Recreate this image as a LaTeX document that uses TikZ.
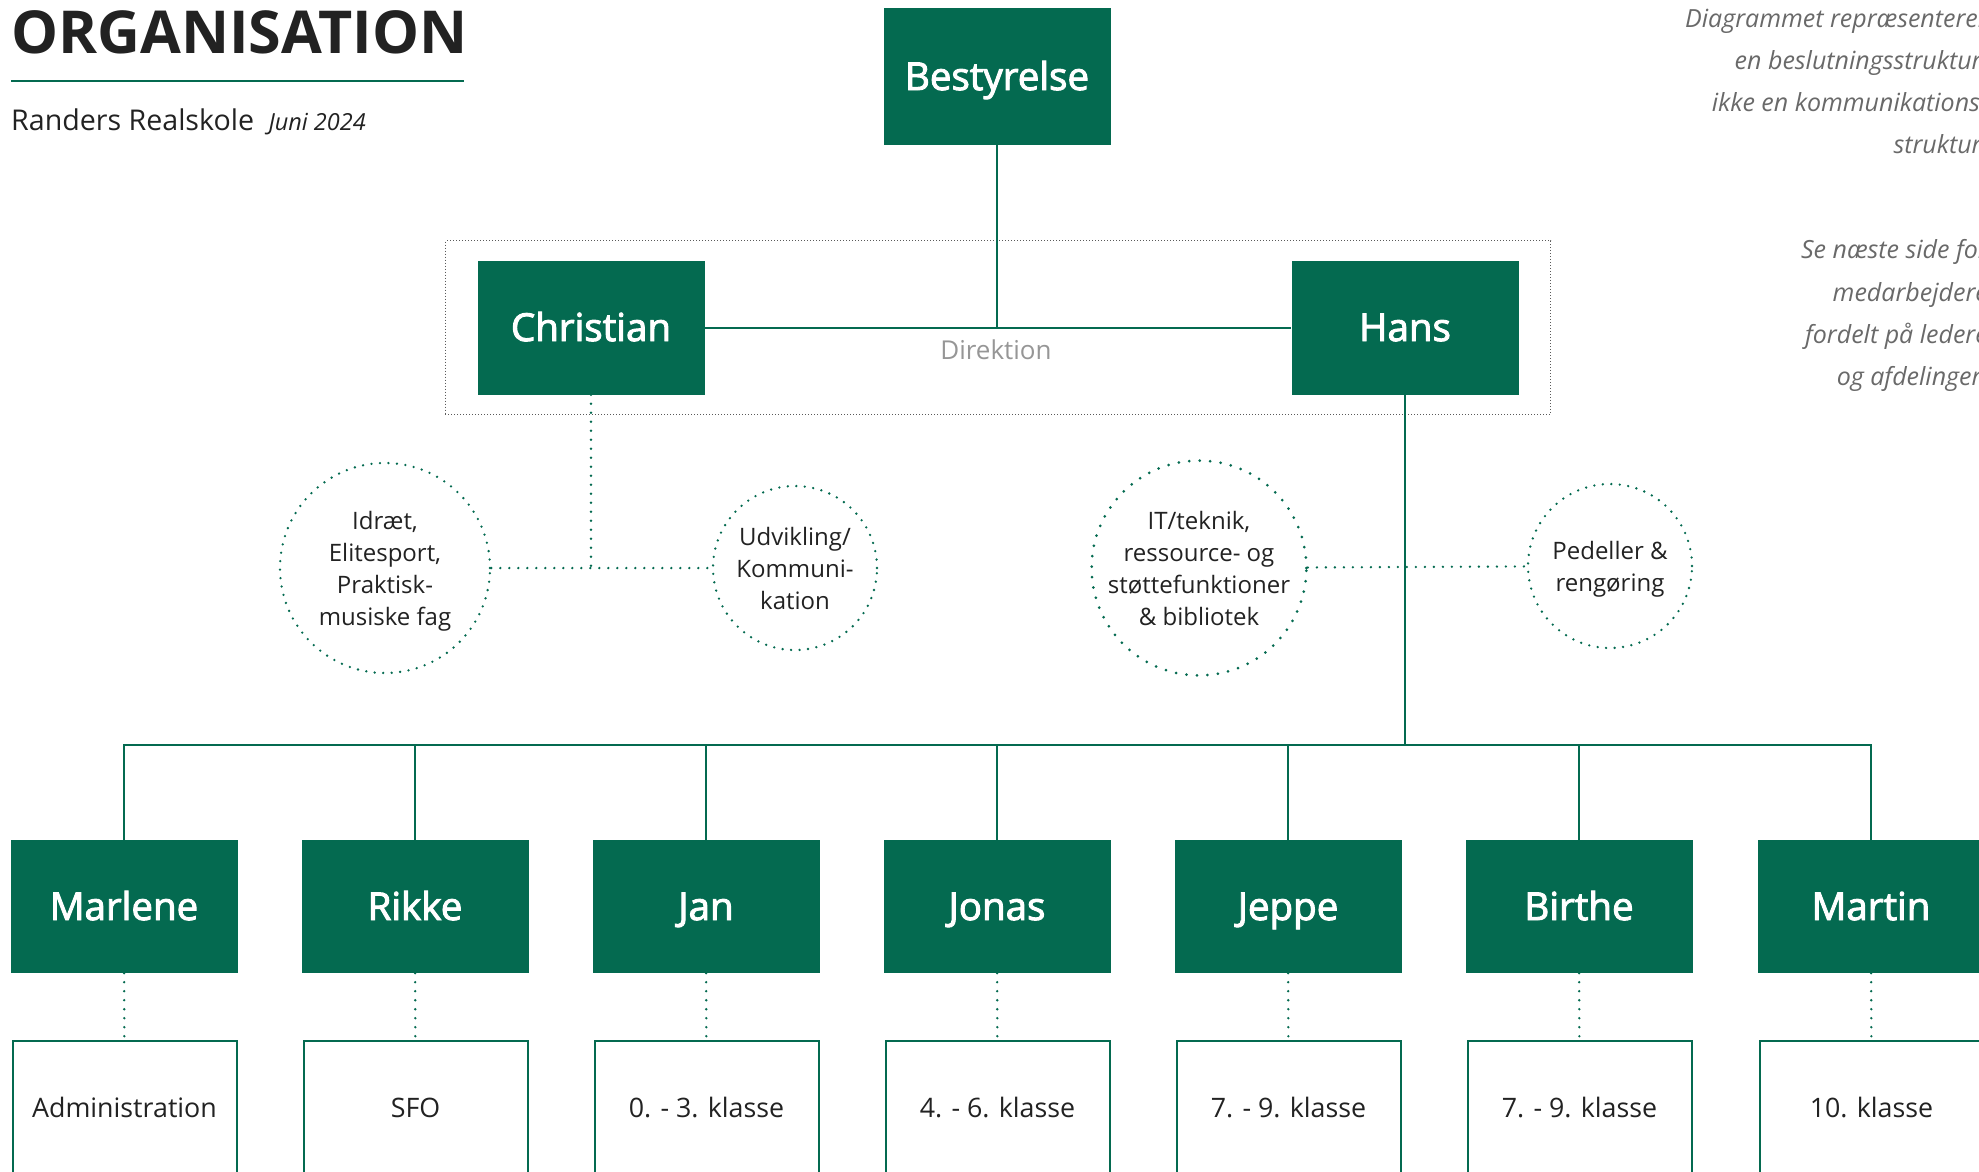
\documentclass[tikz,border=0pt]{standalone}
\usepackage{fontspec}
\setmainfont{Open Sans}
\newfontfamily\semibold{Open Sans}[FakeBold=2.5]
\usetikzlibrary{positioning,fit}
\definecolor{rrgreen}{RGB}{4,106,80}
\definecolor{inkdark}{RGB}{34,34,34}
\definecolor{notegray}{RGB}{105,105,105}
\definecolor{boxgray}{RGB}{90,90,90}
\definecolor{labelgray}{RGB}{150,150,150}

\begin{document}
\begin{tikzpicture}[x=1pt,y=-1pt,
  leader/.style={fill=rrgreen,text=white,minimum width=227pt,minimum height=134pt,inner sep=0pt,text height=27pt,text depth=0pt,font=\fontsize{38.5}{44}\semibold},
  unit/.style={draw=rrgreen,line width=2pt,text=inkdark,minimum width=224pt,minimum height=134pt,inner sep=0pt,text height=18.8pt,text depth=0pt,font=\fontsize{26.8}{30}\selectfont},
  area/.style={circle,draw=rrgreen,line width=2.6pt,line cap=round,dash pattern=on 0pt off 8.5pt,align=center,inner sep=0pt,text=inkdark,text depth=-4pt,font=\fontsize{24}{32}\selectfont},
  link/.style={draw=rrgreen,line width=2pt},
  dotlink/.style={draw=rrgreen,line width=2.6pt,line cap=round,dash pattern=on 0pt off 9pt},
  note/.style={align=right,inner sep=0pt,text=notegray,font=\fontsize{25}{42.3}\selectfont\itshape}
]
\useasboundingbox (0,0) rectangle (1979,1171);
\clip (0,0) rectangle (1979,1171);

% heading
\node[anchor=base west,inner sep=0pt,text=inkdark,font=\fontsize{59.2}{62}\selectfont\bfseries] (title) at (11,53.5) {ORGANISATION};
\draw[rrgreen,line width=2pt] (11,81) -- (464,81);
\node[anchor=base west,inner sep=0pt,text=inkdark,font=\fontsize{28.6}{30}\selectfont] (school) at (11,130) {Randers Realskole};
\node[right=14pt of school.base east,anchor=base west,inner sep=0pt,text=inkdark,font=\fontsize{23.5}{26}\selectfont\itshape] (date) {Juni 2024};

% notes
\node[note,anchor=north east] (note1) at (1988,8.5) {Diagrammet repræsenterer\\en beslutningsstruktur,\\ikke en kommunikations-\\struktur.};
\node[note,anchor=north east] (note2) at (1988,239.5) {Se næste side for\\medarbejdere\\fordelt på ledere\\og afdelinger.};

% board and management
\node[leader,minimum height=137pt] (best) at (997,76.5) {Bestyrelse};
\node[leader] (chr) at (591,327.5) {Christian};
\node[leader] (hans) at (1405,327.5) {Hans};
\node[fit=(chr)(hans),draw=boxgray,line width=1pt,dash pattern=on 1pt off 2pt,inner xsep=32pt,inner ysep=19.5pt] (dir) {};
\node[text=labelgray,font=\fontsize{26}{30}\selectfont] (dirlabel) at (996,350) {Direktion};

\draw[link] (chr) -- (hans);
\draw[link] (best) -- (best |- chr);

% staff areas
\node[area,minimum size=210pt] (idraet) at (385,568) {Idræt,\\Elitesport,\\Praktisk-\\musiske fag};
\node[area,minimum size=164pt] (udv) at (795,568) {Udvikling/\\Kommuni-\\kation};
\node[area,minimum size=210pt,line width=3pt,dash pattern=on 0pt off 10.5pt] (it) at (1199,568) {IT/teknik,\\ressource- og\\støttefunktioner\\\& bibliotek};
\node[area,minimum size=164pt] (ped) at (1610,566) {Pedeller \&\\rengøring};

\draw[dotlink] (chr) -- (chr |- idraet);
\draw[dotlink] (idraet) -- (udv);
\draw[dotlink] (it) -- (ped);

% leaders
\node[leader,minimum height=133pt] (marlene) at (124,906.5) {Marlene};
\node[leader,minimum height=133pt] (rikke) at (415,906.5) {Rikke};
\node[leader,minimum height=133pt] (jan) at (706,906.5) {Jan};
\node[leader,minimum height=133pt] (jonas) at (997,906.5) {Jonas};
\node[leader,minimum height=133pt] (jeppe) at (1288,906.5) {Jeppe};
\node[leader,minimum height=133pt] (birthe) at (1579,906.5) {Birthe};
\node[leader,minimum height=133pt] (martin) at (1871,906.5) {Martin};

\coordinate (bus) at (1405,745);
\draw[link] (hans) -- (bus);
\draw[link] (marlene) |- (bus) -| (martin);
\draw[link] (rikke) -- (rikke |- bus);
\draw[link] (jan) -- (jan |- bus);
\draw[link] (jonas) -- (jonas |- bus);
\draw[link] (jeppe) -- (jeppe |- bus);
\draw[link] (birthe) -- (birthe |- bus);

% departments
\node[unit] (admin) at (124.5,1108) {Administration};
\node[unit] (sfo) at (415.5,1108) {SFO};
\node[unit] (indsk) at (706.5,1108) {0. - 3. klasse};
\node[unit] (mellem) at (997.5,1108) {4. - 6. klasse};
\node[unit] (udsk) at (1288.5,1108) {7. - 9. klasse};
\node[unit] (udsk2) at (1579.5,1108) {7. - 9. klasse};
\node[unit] (tiende) at (1871.5,1108) {10. klasse};

\draw[dotlink] (marlene) -- (admin);
\draw[dotlink] (rikke) -- (sfo);
\draw[dotlink] (jan) -- (indsk);
\draw[dotlink] (jonas) -- (mellem);
\draw[dotlink] (jeppe) -- (udsk);
\draw[dotlink] (birthe) -- (udsk2);
\draw[dotlink] (martin) -- (tiende);

\end{tikzpicture}
\end{document}
